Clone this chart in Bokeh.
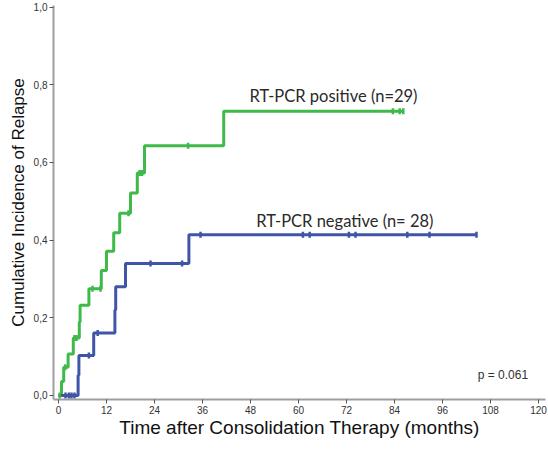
from bokeh.plotting import figure
from bokeh.models import Range1d, FixedTicker, CustomJSTickFormatter
from bokeh.core.properties import value
from bokeh.embed import file_html
from bokeh.resources import INLINE
import numpy as np

# RT-PCR positive (green)
pos_t = [0, 0.75, 1.3, 2.4, 3.7, 5.2, 5.4, 7.6, 10.7, 12.0, 13.8, 15.3, 18.0, 19.7, 21.5, 41.3, 86.3]
pos_y = [0, 0.036, 0.073, 0.107, 0.148, 0.189, 0.232, 0.275, 0.322, 0.371, 0.419, 0.469, 0.521, 0.573, 0.643, 0.732, 0.732]
pos_cens_t = [0.3, 1.7, 4.0, 4.5, 8.5, 10.5, 17.5, 20.3, 20.9, 32.4, 83.6, 85.3, 86.2]
pos_cens_y = [0, 0.073, 0.148, 0.148, 0.275, 0.275, 0.469, 0.573, 0.573, 0.643, 0.732, 0.732, 0.732]

# RT-PCR negative (blue)
neg_t = [0, 4.9, 5.1, 8.8, 14.1, 14.3, 16.75, 32.6, 104.5]
neg_y = [0, 0.052, 0.103, 0.161, 0.22, 0.28, 0.34, 0.414, 0.414]
neg_cens_t = [1.75, 2.6, 3.25, 4.0, 7.6, 9.8, 23.0, 30.9, 35.5, 61.1, 62.8, 72.6, 74.25, 87.2, 92.75, 104.5]
neg_cens_y = [0, 0, 0, 0, 0.103, 0.161, 0.34, 0.34, 0.414, 0.414, 0.414, 0.414, 0.414, 0.414, 0.414, 0.414]

x_ticks = [0, 12, 24, 36, 48, 60, 72, 84, 96, 108, 120]
y_ticks = [0.0, 0.2, 0.4, 0.6, 0.8, 1.0]

labels = ["RT-PCR positive (n=29)", "RT-PCR negative (n= 28)"]
label_x = [68.75, 71.6]
label_y = [0.770, 0.450]
p_text = ["p = 0.061"]
p_x = [111.1]
p_y = [0.0515]

GREEN = "#3fb94a"
BLUE = "#3f56a8"

p = figure(width=548, height=451, output_backend="svg", toolbar_location=None,
           x_range=Range1d(-1.25, 121.75), y_range=Range1d(-0.0103, 1.0039),
           min_border_left=53, min_border_right=3, min_border_top=5, min_border_bottom=52)
p.outline_line_color = None
p.xgrid.visible = False
p.ygrid.visible = False
p.background_fill_color = "white"
p.border_fill_color = "white"

p.step(pos_t, pos_y, mode="after", line_color=GREEN, line_width=3)
p.step(neg_t, neg_y, mode="after", line_color=BLUE, line_width=3)
p.scatter(pos_cens_t, pos_cens_y, marker="dash", angle=np.pi / 2, size=6,
          line_color=GREEN, line_width=2.5)
p.scatter(neg_cens_t, neg_cens_y, marker="dash", angle=np.pi / 2, size=6,
          line_color=BLUE, line_width=2.5)

p.text(label_x, label_y, text=labels, text_align="center", text_baseline="middle",
       text_font=value("Lato"), text_font_size="16.5px", text_color="#2a2a2a")
p.text(p_x, p_y, text=p_text, text_align="center", text_baseline="middle",
       text_font=value("Liberation Sans"), text_font_size="12px", text_color="#333333")

for ax in (p.xaxis[0], p.yaxis[0]):
    ax.axis_line_color = "#9e9e9e"
    ax.axis_line_width = 2
    ax.major_tick_line_color = "#555555"
    ax.major_tick_line_width = 1
    ax.major_tick_out = 4
    ax.major_tick_in = 0
    ax.minor_tick_line_color = None
    ax.major_label_text_font = "Liberation Sans"
    ax.major_label_text_font_size = "10px"
    ax.major_label_text_color = "#333333"
    ax.major_label_standoff = 2
    ax.axis_label_text_font = "Liberation Sans"
    ax.axis_label_text_font_style = "normal"
    ax.axis_label_text_color = "#111111"

p.xaxis.axis_label_text_font_size = "19px"
p.xaxis.axis_label_standoff = 0
p.yaxis.axis_label_text_font_size = "17px"
p.yaxis.axis_label_standoff = 3

p.xaxis.ticker = FixedTicker(ticks=x_ticks)
p.yaxis.ticker = FixedTicker(ticks=y_ticks)
p.yaxis.formatter = CustomJSTickFormatter(code="return tick.toFixed(1).replace('.', ',');")
p.xaxis.axis_label = "Time after Consolidation Therapy (months)"
p.yaxis.axis_label = "Cumulative Incidence of Relapse"

open("out.html", "w").write(file_html(p, INLINE))
